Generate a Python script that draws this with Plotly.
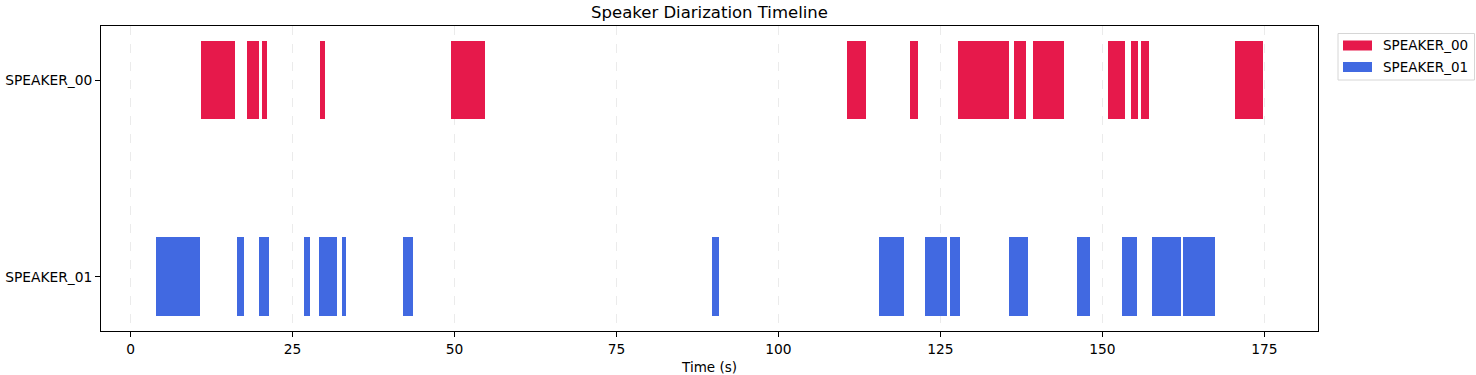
import plotly.graph_objects as go

speakers = ["SPEAKER_00", "SPEAKER_01"]
colors = ["#e6194b", "#4169e1"]

spk00_start = [10.91, 18.01, 20.32, 29.27, 49.49, 110.60, 120.30, 127.73, 136.37, 139.30,
               150.88, 154.43, 155.97, 170.48]
spk00_end = [16.16, 19.86, 21.09, 30.05, 54.74, 113.53, 121.56, 135.60, 138.22, 144.09,
             153.50, 155.51, 157.20, 174.75]

spk01_start = [3.97, 16.47, 19.86, 26.80, 29.12, 32.68, 42.08, 89.77, 115.54, 122.64,
               126.50, 135.60, 146.10, 153.00, 157.66, 162.45]
spk01_end = [10.76, 17.55, 21.40, 27.73, 31.90, 33.30, 43.62, 90.85, 119.40, 126.03,
             128.04, 138.53, 148.10, 155.35, 162.14, 167.39]

x_ticks = [0, 25, 50, 75, 100, 125, 150, 175]

segments = {
    "SPEAKER_00": (spk00_start, spk00_end),
    "SPEAKER_01": (spk01_start, spk01_end),
}

W, H = 1476, 375
L, R, T, B = 101, 158, 26, 44
PW, PH = W - L - R, H - T - B


def px(x):
    return (x - L) / PW


def py(y):
    return (H - B - y) / PH


fig = go.Figure()
for spk, col in zip(speakers, colors):
    starts, ends = segments[spk]
    fig.add_trace(go.Bar(
        name=spk,
        orientation="h",
        y=[spk] * len(starts),
        base=starts,
        x=[e - s for s, e in zip(starts, ends)],
        width=0.4,
        marker=dict(color=col, line=dict(width=0)),
        hovertemplate=spk + "<br>%{base:.2f}s – %{x:.2f}s<extra></extra>",
        showlegend=False,
    ))

# legend drawn in paper coordinates (matplotlib-style)
shapes = [dict(type="rect", xref="paper", yref="paper",
               x0=px(1338), x1=px(1474.5), y0=py(80), y1=py(33.5),
               line=dict(color="#d6d6d6", width=1), fillcolor="white", layer="above")]
annotations = []
for i, (spk, col) in enumerate(zip(speakers, colors)):
    yc = 45.5 + i * 21.5
    shapes.append(dict(type="rect", xref="paper", yref="paper",
                       x0=px(1343), x1=px(1372), y0=py(yc + 5), y1=py(yc - 5),
                       line=dict(width=0), fillcolor=col, layer="above"))
    annotations.append(dict(text=spk, xref="paper", yref="paper",
                            x=px(1381), y=py(yc), xanchor="left", yanchor="middle",
                            showarrow=False, font=dict(size=13.5, color="black")))

all_start = spk00_start + spk01_start
all_end = spk00_end + spk01_end
xmin, xmax = min(all_start), max(all_end)
pad = 0.05 * (xmax - xmin)

fig.update_layout(
    width=W, height=H,
    margin=dict(l=L, r=R, t=T, b=B, pad=0, autoexpand=False),
    paper_bgcolor="white", plot_bgcolor="white",
    font=dict(family="DejaVu Sans", size=13.8, color="black"),
    title=dict(text="Speaker Diarization Timeline", x=px(709.5), xref="paper",
               xanchor="center", y=1 - 12.5 / H, yanchor="middle", font=dict(size=16.5)),
    barmode="overlay",
    bargap=0,
    showlegend=False,
    shapes=shapes,
    annotations=annotations,
    xaxis=dict(
        automargin=False,
        range=[xmin - pad, xmax + pad],
        tickvals=x_ticks, ticktext=[str(t) for t in x_ticks],
        showgrid=True, gridcolor="#ebebeb", griddash="dash", gridwidth=1,
        zeroline=False,
        showline=True, linecolor="black", linewidth=1, mirror=True,
        ticks="outside", ticklen=5, tickcolor="black",
        title=dict(text="Time (s)", font=dict(size=13.5), standoff=6),
    ),
    yaxis=dict(
        automargin=False,
        type="category",
        categoryorder="array", categoryarray=["SPEAKER_01", "SPEAKER_00"],
        range=[-0.276, 1.275],
        showgrid=False, zeroline=False,
        showline=True, linecolor="black", linewidth=1, mirror=True,
        ticks="outside", ticklen=5, tickcolor="black",
    ),
)

fig.write_html("out.html", config={"displayModeBar": False},
               post_script="document.body.style.margin='0';")
